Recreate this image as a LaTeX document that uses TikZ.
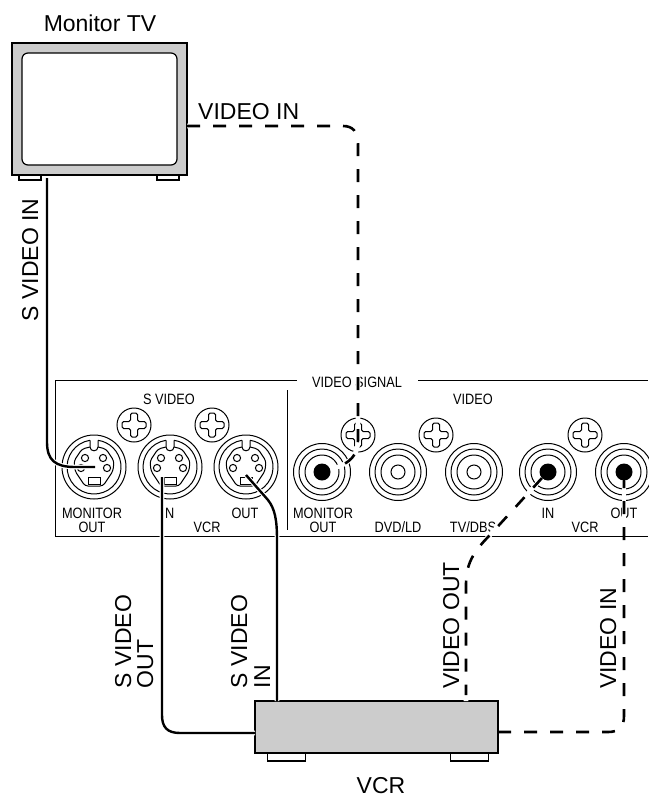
\documentclass[tikz,border=0pt]{standalone}
\usepackage{fontspec}
\setmainfont{Liberation Sans}
\newcommand{\bigfnt}{\fontsize{23}{26}\selectfont}
\newcommand{\panelfnt}{\fontsize{15}{17}\selectfont}
\definecolor{boxgray}{gray}{.8}
\tikzset{
  box/.style={draw=black,line width=1.6pt,fill=boxgray,inner sep=0pt},
  foot/.style={draw=black,line width=1.1pt,fill=white,inner sep=0pt},
  biglabel/.style={inner sep=0pt,font=\bigfnt},
  panellabel/.style={inner sep=0pt,font=\panelfnt,xscale=.85,transform shape,anchor=center},
  panelline/.style={line width=1pt},
  cablehalo/.style={draw=white,line width=4.6pt},
  cable/.style={draw=black,line width=2.4pt},
  dashcable/.style={draw=black,line width=2.6pt,dash pattern=on 13pt off 13pt},
}
\newcommand{\screw}[2]{%
  \draw[panelline,fill=white] (#1,#2) circle (17);
  \draw[panelline,rounded corners=1.6pt,shift={(#1,#2)}]
    (-3.5,-12) -- (3.5,-12) -- (3.5,-3.5) -- (12,-3.5) -- (12,3.5) -- (3.5,3.5) -- (3.5,12)
    -- (-3.5,12) -- (-3.5,3.5) -- (-12,3.5) -- (-12,-3.5) -- (-3.5,-3.5) -- cycle;
}
\newcommand{\rca}[3]{% x y filled
  \begin{scope}[shift={(#1,#2)},panelline]
    \draw (0,0) circle (28.5);
    \draw (0,0) circle (23);
    \draw (0,0) circle (17);
    \ifnum#3=1 \fill (0,0) circle (8.5);\else \draw (0,0) circle (7);\fi
  \end{scope}
}
\newcommand{\svideo}[2]{%
  \begin{scope}[shift={(#1,#2)},panelline]
    \draw (0,0) circle (32);
    \draw (-4,-26.7) arc[start angle=-98.6,end angle=-441.4,radius=27];
    \draw (-4,-26.7) -- (-4,-20) .. controls (-4,-15) and (4,-15) .. (4,-20) -- (4,-26.7);
    \draw[rounded corners=3pt] (-4,-20) -- (-12,-18) -- (-20,-6) -- (-19,4) -- (-9,19) -- (9,19) -- (19,4) -- (20,-6) -- (12,-18) -- (4,-20);
    \draw (-6,10) rectangle (6,17);
    \draw (-9,-9) circle (3.6);
    \draw (9,-9) circle (3.6);
    \draw (-13,1) circle (3.6);
    \draw (13,1) circle (3.6);
  \end{scope}
}
\begin{document}
\begin{tikzpicture}[x=1pt,y=-1pt]
\useasboundingbox (0,0) rectangle (648,795);
% TV
\node[foot,minimum width=22pt,minimum height=5pt] (tvfootl) at (30,177.5) {};
\node[foot,minimum width=22pt,minimum height=5pt] (tvfootr) at (168,177.5) {};
\node[box,minimum width=175pt,minimum height=132pt] (tv) at (99.5,109) {};
\node[draw=black,line width=1.2pt,fill=white,rounded corners=6pt,minimum width=155pt,minimum height=112pt,inner sep=0pt] (screen) at (99.5,109) {};
\node[biglabel] (tvlabel) at (100,23.5) {Monitor TV};
% VCR
\node[foot,minimum width=38pt,minimum height=8pt] (vcrfootl) at (286.5,757) {};
\node[foot,minimum width=38pt,minimum height=8pt] (vcrfootr) at (469.5,757) {};
\node[box,minimum width=243pt,minimum height=52pt] (vcr) at (376.5,727) {};
\node[biglabel,anchor=base] (vcrlabel) at (381,793) {VCR};
% panel
\draw[panelline] (296.5,380) -- (55,380) -- (55,536) -- (648,536);
\draw[panelline] (418,380) -- (648,380);
\draw[panelline] (287,390) -- (287,530);
\node[panellabel] (tsv) at (169,399) {S VIDEO};
\node[panellabel] (tvs) at (357,382) {VIDEO SIGNAL};
\node[panellabel] (tv2) at (473,399) {VIDEO};
\node[panellabel] (t1) at (92,513) {MONITOR};
\node[panellabel] (t2) at (92,527) {OUT};
\node[panellabel] (t3) at (168,513) {IN};
\node[panellabel] (t4) at (245,513) {OUT};
\node[panellabel] (t5) at (207,527) {VCR};
\node[panellabel] (t6) at (323,513) {MONITOR};
\node[panellabel] (t7) at (323,527) {OUT};
\node[panellabel] (t8) at (398,527) {DVD/LD};
\node[panellabel] (t9) at (473,527) {TV/DBS};
\node[panellabel] (t10) at (548,513) {IN};
\node[panellabel] (t11) at (585,527) {VCR};
\node[panellabel] (t12) at (624,513) {OUT};
\screw{134}{425}
\screw{212}{425}
\screw{358}{435}
\screw{436}{435}
\screw{585}{435}
\svideo{94}{467}
\svideo{170}{467}
\svideo{246}{467}
\rca{322}{472}{1}
\rca{398}{472}{0}
\rca{474}{472}{0}
\rca{548}{472}{1}
\rca{624}{472}{1}
% outside labels
\node[biglabel,anchor=base west] (l1) at (198,119) {VIDEO IN};
\node[biglabel,anchor=base west,rotate=90] (l2) at (38,321.5) {S VIDEO IN};
\node[biglabel,anchor=base west,rotate=90] (l3) at (131,688.5) {S VIDEO};
\node[biglabel,anchor=base west,rotate=90] (l4) at (153,688.5) {OUT};
\node[biglabel,anchor=base west,rotate=90] (l5) at (247,688.5) {S VIDEO};
\node[biglabel,anchor=base west,rotate=90] (l6) at (270,688.5) {IN};
\node[biglabel,anchor=base west,rotate=90] (l7) at (459,689) {VIDEO OUT};
\node[biglabel,anchor=base west,rotate=90] (l8) at (616,689) {VIDEO IN};
% connector ends
\coordinate (tvs1) at (47,178);
\coordinate (tvd) at (187,126);
\coordinate (j1) at (95,467);
\coordinate (j2) at (162,477);
\coordinate (j3) at (246,475);
\coordinate (j4) at (335,468);
\coordinate (j5) at (542,478);
\coordinate (j6) at (624,480);
\coordinate (v1) at (255,733);
\coordinate (v2) at (277,701);
\coordinate (v3) at (466,701);
\coordinate (v4) at (498,732);
% cables
\path[cablehalo] (j1) -- (75,467) .. controls (55,467) and (47,460) .. (47,442);
\draw[cable] (tvs1) -- (47,442) .. controls (47,460) and (55,467) .. (75,467) -- (j1);
\path[cablehalo] (j2) -- (162,715) .. controls (162,727) and (167,733) .. (180,733) -- (v1);
\draw[cable] (j2) -- (162,715) .. controls (162,727) and (167,733) .. (180,733) -- (v1);
\path[cablehalo] (j3) -- (268,500) .. controls (275,509) and (277,520) .. (277,540) -- (v2);
\draw[cable] (j3) -- (268,500) .. controls (275,509) and (277,520) .. (277,540) -- (v2);
\path[cablehalo] (tvd) -- (343,126) .. controls (353,126) and (358,132) .. (358,144) -- (358,440) .. controls (358,455) and (350,463) .. (j4);
\draw[dashcable] (tvd) -- (343,126) .. controls (353,126) and (358,132) .. (358,144) -- (358,440) .. controls (358,455) and (350,463) .. (j4);
\path[cablehalo] (j5) -- (490,535) .. controls (472,553) and (466,565) .. (466,585) -- (v3);
\draw[dashcable] (j5) -- (490,535) .. controls (472,553) and (466,565) .. (466,585) -- (466,695);
\path[cablehalo] (j6) -- (624,536);
\draw[dashcable] (v4) -- (608,732) .. controls (619,732) and (624,727) .. (624,716) -- (j6);
\end{tikzpicture}
\end{document}
